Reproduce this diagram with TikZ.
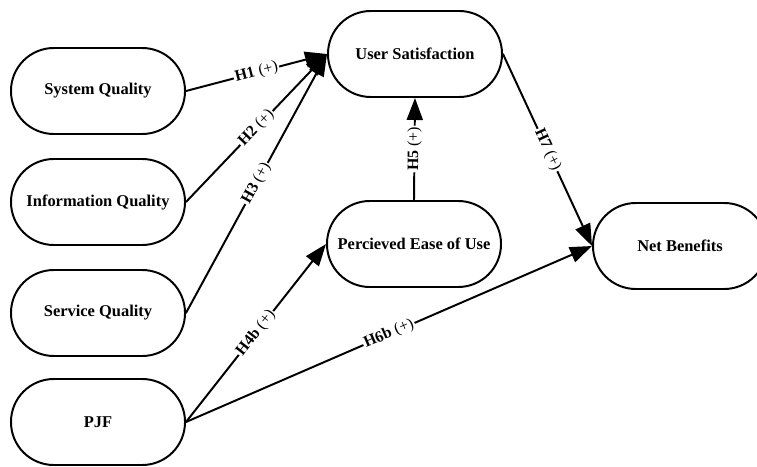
\documentclass[tikz,border=0pt]{standalone}
\usepackage{fontspec}
\setmainfont{Liberation Serif}
\usetikzlibrary{arrows.meta}

\begin{document}
\begin{tikzpicture}[line cap=round]
% Styles
\tikzstyle{construct}=[draw,line width=1.4pt,rounded corners=1.07cm,minimum width=4.35cm,minimum height=2.15cm,font=\fontsize{11.7}{14}\selectfont\bfseries]
\tikzstyle{path line}=[line width=1.4pt,-{Triangle[length=5.5mm,width=4mm]}]
\tikzstyle{hypothesis}=[midway,sloped,fill=white,inner sep=1pt,font=\fontsize{11.3}{13}\selectfont]
% The graphic
\useasboundingbox (0,0) rectangle (18.925,11.65);
\node[construct] (sq) at (2.45,9.375) {System Quality};
\node[construct] (iq) at (2.45,6.6) {Information Quality};
\node[construct] (svq) at (2.45,3.825) {Service Quality};
\node[construct] (pjf) at (2.45,1.1) {PJF};
\node[construct] (us) at (10.375,10.3) {User Satisfaction};
\node[construct] (peu) at (10.35,5.55) {Percieved Ease of Use};
\node[construct] (nb) at (17.0,5.5) {Net Benefits};
% Hypotheses
\draw[style=path line] (sq.east) -- node[hypothesis] {\textbf{H1} (+)} (us.west);
\draw[style=path line] (iq.east) -- node[hypothesis] {\textbf{H2} (+)} (us.west);
\draw[style=path line] (svq.east) -- node[hypothesis] {\textbf{H3} (+)} (us.west);
\draw[style=path line] (pjf.east) -- node[hypothesis] {\textbf{H4b} (+)} (peu.west);
\draw[style=path line] (peu.north) -- node[hypothesis] {\textbf{H5} (+)} (us.south);
\draw[style=path line] (pjf.east) -- node[hypothesis] {\textbf{H6b} (+)} (nb.west);
\draw[style=path line] (us.east) -- node[hypothesis] {\textbf{H7} (+)} (nb.west);
\end{tikzpicture}
\end{document}
